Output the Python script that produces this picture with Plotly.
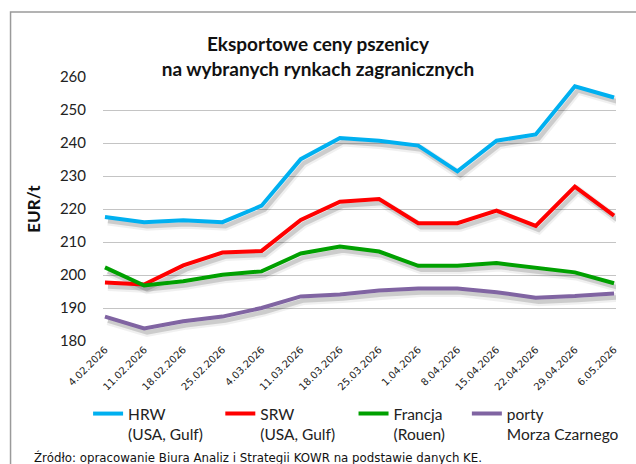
import plotly.graph_objects as go

dates = ["4.02.2026", "11.02.2026", "18.02.2026", "25.02.2026", "4.03.2026",
         "11.03.2026", "18.03.2026", "25.03.2026", "1.04.2026", "8.04.2026",
         "15.04.2026", "22.04.2026", "29.04.2026", "6.05.2026"]

hrw = [217.6, 216.0, 216.6, 216.0, 221.0, 235.1, 241.5, 240.7, 239.2, 231.4,
       240.7, 242.6, 257.2, 253.8]
srw = [197.7, 197.1, 202.9, 206.8, 207.3, 216.7, 222.2, 223.0, 215.7, 215.7,
       219.5, 214.9, 226.8, 218.0]
francja = [202.3, 196.8, 198.1, 200.1, 201.1, 206.5, 208.6, 207.1, 202.8, 202.8,
           203.6, 202.3, 200.8, 197.5]
porty = [187.4, 183.8, 186.0, 187.4, 190.0, 193.5, 194.1, 195.3, 195.9, 195.9,
         194.8, 193.1, 193.6, 194.4]

names = ["HRW<br>(USA, Gulf)", "SRW<br>(USA, Gulf)", "Francja<br>(Rouen)",
         "porty<br>Morza Czarnego"]
colors = ["#00b0f0", "#ff0000", "#00a000", "#8064a2"]
series = [hrw, srw, francja, porty]

title_text = "Eksportowe ceny pszenicy<br>na wybranych rynkach zagranicznych"
source_text = "Źródło: opracowanie Biura Analiz i Strategii KOWR na podstawie danych KE."

W, H = 636, 464
L, R, T, B = 103, 17, 77, 123
pw, ph = W - L - R, H - T - B

def px2x(p):
    return (p - L) / pw

def py2y(p):
    return (H - B - p) / ph

fig = go.Figure()

# shadows (drawn on the base, shifted axes)
for vals in series:
    fig.add_trace(go.Scatter(x=dates, y=vals, mode="lines", xaxis="x", yaxis="y",
                             line=dict(color="rgba(0,0,0,0.06)", width=9),
                             showlegend=False, hoverinfo="skip"))
    fig.add_trace(go.Scatter(x=dates, y=vals, mode="lines", xaxis="x", yaxis="y",
                             line=dict(color="rgba(0,0,0,0.15)", width=4.5),
                             showlegend=False, hoverinfo="skip"))

legend_ids = ["legend", "legend2", "legend3", "legend4"]
legend_px = [88, 221, 355, 469]
for vals, nm, col, lid in zip(series, names, colors, legend_ids):
    fig.add_trace(go.Scatter(x=dates, y=vals, mode="lines", name=nm,
                             xaxis="x2", yaxis="y2", legend=lid,
                             line=dict(color=col, width=4)))

xr = [-0.05, 13.05]
xshift = 3 / (pw / (xr[1] - xr[0]))
yshift = 4 / (ph / 80)

font_main = "Lato, 'Noto Sans', sans-serif"
font_tick = "'DejaVu Sans', Verdana, sans-serif"

layout = dict(
    width=W, height=H,
    margin=dict(l=L, r=R, t=T, b=B),
    paper_bgcolor="white", plot_bgcolor="white",
    showlegend=True,
    title=dict(text=title_text, x=0.5, xref="container", xanchor="center",
               y=1 - 51 / H, yref="container", yanchor="top",
               font=dict(family=font_main, size=19, color="#111111",
                         weight="bold")),
    xaxis=dict(type="category", categoryarray=dates, range=[xr[0] - xshift, xr[1] - xshift],
               visible=False, fixedrange=True),
    yaxis=dict(range=[180 + yshift, 260 + yshift], visible=False, fixedrange=True),
    xaxis2=dict(type="category", categoryarray=dates, range=xr, overlaying="x",
                anchor="y2", showgrid=False, showline=False, zeroline=False,
                ticks="", tickangle=-45, fixedrange=True,
                tickfont=dict(family=font_tick, size=10, color="#222222")),
    yaxis2=dict(range=[180, 260], dtick=10, overlaying="y", anchor="x2", side="left",
                showgrid=True, gridcolor="#c4c4c4", gridwidth=1, zeroline=False,
                showline=False, ticks="", ticklabelstandoff=16, fixedrange=True,
                tickfont=dict(family=font_main, size=15, color="#222222"),
                title=dict(text="<b>EUR/t</b>", standoff=14,
                           font=dict(family=font_main, size=17, color="#111111"))),
    shapes=[dict(type="rect", xref="paper", yref="paper",
                 x0=px2x(10), y0=py2y(12), x1=px2x(660), y1=py2y(500),
                 line=dict(color="#9a9a9a", width=1.5), fillcolor="rgba(0,0,0,0)",
                 layer="below")],
    annotations=[dict(text=source_text, xref="paper", yref="paper",
                      x=px2x(32), y=py2y(457), xanchor="left", yanchor="middle",
                      showarrow=False,
                      font=dict(family=font_tick, size=11.8, color="#111111"))],
)

for lid, p in zip(legend_ids, legend_px):
    layout[lid] = dict(x=px2x(p), y=py2y(397), xanchor="left", yanchor="top",
                       orientation="v", valign="top", bgcolor="rgba(0,0,0,0)",
                       font=dict(family=font_main, size=15.5, color="#222222"),
                       itemwidth=30)

fig.update_layout(**layout)
fig.write_html("out.html", config={"displayModeBar": False},
               post_script="document.body.style.margin='0';")
